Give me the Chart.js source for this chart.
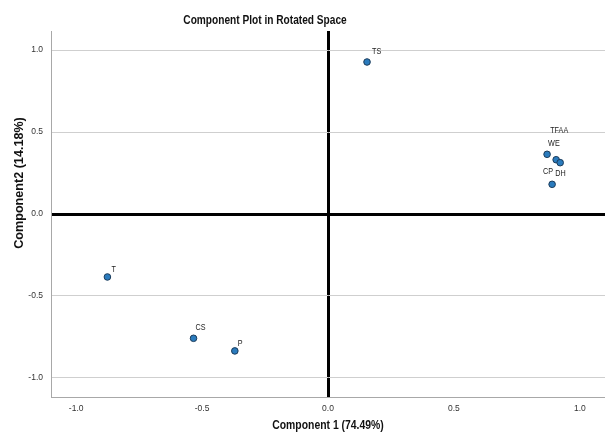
<!DOCTYPE html>
<html><head><meta charset="utf-8">
<script src="https://cdn.jsdelivr.net/npm/chart.js@4/dist/chart.umd.min.js"></script>
<style>html,body{margin:0;padding:0;background:#fff}canvas{display:block}</style>
</head><body>
<canvas id="c" width="605" height="442"></canvas>
<script>
// Data
const variables = ["TS", "TFAA", "WE", "CP", "DH", "T", "CS", "P"];
const component1 = [0.155, 0.906, 0.870, 0.890, 0.922, -0.876, -0.534, -0.370];
const component2 = [0.927, 0.331, 0.364, 0.181, 0.313, -0.384, -0.758, -0.835];
const xTicks = [-1.0, -0.5, 0.0, 0.5, 1.0];
const yTicks = [-1.0, -0.5, 0.0, 0.5, 1.0];
const titleText = "Component Plot in Rotated Space";
const xTitle = "Component 1 (74.49%)";
const yTitle = "Component2 (14.18%)";

// label offsets (style only)
const labelOffsets = {TS:[5,-10], TFAA:[-6,-29], WE:[1,-11], CP:[-9,-13], DH:[-5,11], T:[4,-7], CS:[2,-11], P:[3,-7]};

const font = "'Liberation Sans', Arial, sans-serif";

function narrowText(ctx, text, x, y, sx) {
  ctx.save();
  ctx.translate(x, y);
  ctx.scale(sx, 1);
  ctx.fillText(text, 0, 0);
  ctx.restore();
}

const textPlugin = {
  id: 'texts',
  afterDatasetsDraw(chart) {
    const ctx = chart.ctx;
    const meta = chart.getDatasetMeta(0);
    ctx.save();
    ctx.fillStyle = '#222';
    ctx.font = "8.5px " + font;
    ctx.textAlign = 'left';
    ctx.textBaseline = 'middle';
    meta.data.forEach((pt, i) => {
      const name = variables[i];
      const o = labelOffsets[name] || [4,-7];
      narrowText(ctx, name, pt.x + o[0], pt.y + o[1], 0.85);
    });
    ctx.restore();
  },
  afterDraw(chart) {
    const ctx = chart.ctx;
    const ca = chart.chartArea;
    ctx.save();
    ctx.fillStyle = '#111';
    ctx.textAlign = 'center';
    ctx.textBaseline = 'middle';
    ctx.font = "bold 13px " + font;
    narrowText(ctx, titleText, 265, 20, 0.78);
    ctx.font = "bold 13px " + font;
    narrowText(ctx, xTitle, (ca.left + ca.right) / 2, 425, 0.8);
    ctx.translate(20, 183);
    ctx.rotate(-Math.PI / 2);
    ctx.font = "bold 12.6px " + font;
    ctx.fillText(yTitle, 0, 0);
    ctx.restore();
  }
};

new Chart(document.getElementById('c'), {
  type: 'scatter',
  data: {
    datasets: [{
      data: component1.map((x, i) => ({x: x, y: component2[i]})),
      backgroundColor: '#2a7bbd',
      borderColor: '#1b3b5a',
      borderWidth: 1,
      pointRadius: 3.3,
      pointHoverRadius: 3.3
    }]
  },
  options: {
    responsive: false,
    animation: false,
    devicePixelRatio: 1,
    layout: {autoPadding: false, padding: {top: 31, right: 0, bottom: 0, left: 0}},
    plugins: {legend: {display: false}, tooltip: {enabled: false}, title: {display: false}},
    scales: {
      x: {
        type: 'linear', min: -1.1, max: 1.1,
        afterBuildTicks: s => { s.ticks = xTicks.map(v => ({value: v})); },
        afterFit: s => { s.height = 45; s.paddingLeft = 0; s.paddingRight = 0; },
        border: {display: true, color: '#a8a8a8', width: 1},
        grid: {
          drawTicks: false,
          color: c => c.tick && c.tick.value === 0 ? '#000' : 'rgba(0,0,0,0)',
          lineWidth: c => c.tick && c.tick.value === 0 ? 3 : 0
        },
        ticks: {
          padding: 7, color: '#333', font: {family: font, size: 8.5},
          callback: v => v.toFixed(1), maxRotation: 0, autoSkip: false
        }
      },
      y: {
        type: 'linear', min: -1.116, max: 1.116,
        afterBuildTicks: s => { s.ticks = yTicks.map(v => ({value: v})); },
        afterFit: s => { s.width = 51; s.paddingTop = 0; s.paddingBottom = 0; },
        border: {display: true, color: '#a8a8a8', width: 1},
        grid: {
          drawTicks: false,
          color: c => c.tick && c.tick.value === 0 ? '#000' : '#cfcfcf',
          lineWidth: c => c.tick && c.tick.value === 0 ? 3 : 1
        },
        ticks: {
          padding: 8, color: '#333', font: {family: font, size: 8.5},
          callback: v => v.toFixed(1), autoSkip: false
        }
      }
    }
  },
  plugins: [textPlugin]
});
</script>
</body></html>
